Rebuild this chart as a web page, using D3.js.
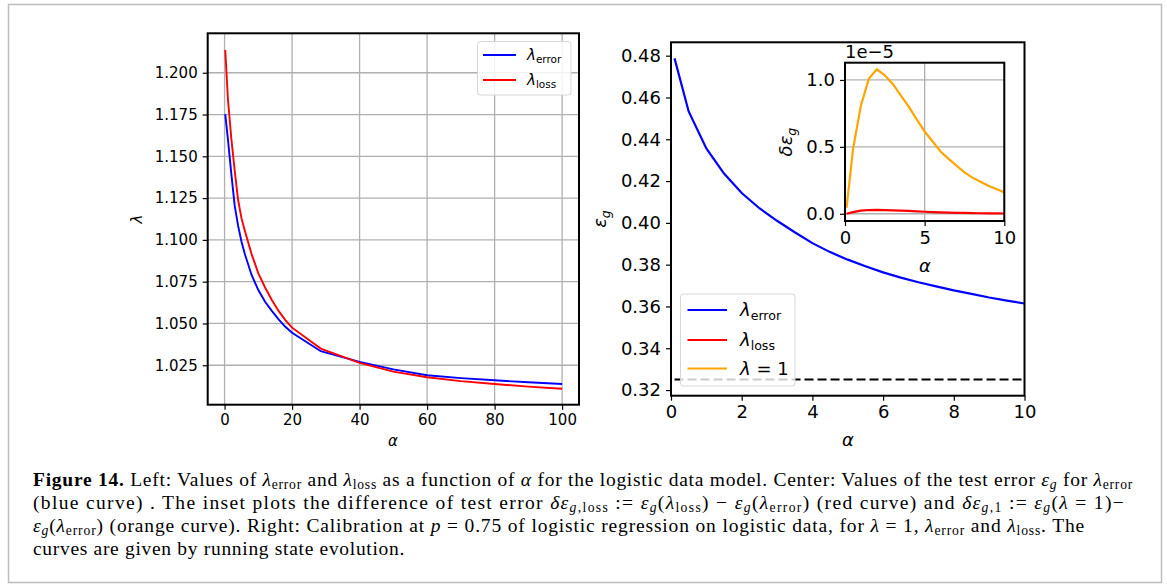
<!DOCTYPE html>
<html><head><meta charset="utf-8">
<script src="https://cdn.jsdelivr.net/npm/d3@7"></script>
<style>
body{margin:0;background:#fff}
svg{display:block}
text{font-family:"DejaVu Sans",sans-serif;fill:#000}
</style>
</head><body>
<svg id="c" width="1167" height="588"></svg>
<script>
// ---------- data ----------
const alphaLeft   = [0.2, 1, 2, 3, 4, 5, 6, 8, 10, 12, 14, 16, 18, 20, 28.5, 40, 50, 60, 70, 80, 90, 100];
const lambdaError = [1.1753, 1.160, 1.1395, 1.1205, 1.1085, 1.0990, 1.0915, 1.0790, 1.0700, 1.0630, 1.0575, 1.0525, 1.0480, 1.0444, 1.0334, 1.0270, 1.0225, 1.0190, 1.0173, 1.0160, 1.0148, 1.0138];
const lambdaLoss  = [1.2136, 1.1840, 1.1605, 1.1415, 1.1240, 1.1130, 1.1055, 1.0915, 1.0800, 1.0715, 1.0640, 1.0575, 1.0520, 1.0475, 1.0350, 1.0264, 1.0212, 1.0178, 1.0155, 1.0138, 1.0122, 1.0109];
const leftXTicks  = [0, 20, 40, 60, 80, 100];
const leftYTicks  = [1.025, 1.050, 1.075, 1.100, 1.125, 1.150, 1.175, 1.200];

const alphaRight  = [0.1, 0.5, 1.0, 1.5, 2.0, 2.5, 3.0, 3.5, 4.0, 4.5, 5.0, 5.5, 6.0, 6.5, 7.0, 7.5, 8.0, 8.5, 9.0, 9.5, 10];
const epsError    = [0.4787, 0.4533, 0.4356, 0.4236, 0.4143, 0.4070, 0.4010, 0.3955, 0.3903, 0.3860, 0.3824, 0.3792, 0.3763, 0.3738, 0.3716, 0.3696, 0.3677, 0.3660, 0.3643, 0.3628, 0.3614];
const refAlpha    = [0.1, 10];
const refLevel    = 0.325;
const rightXTicks = [0, 2, 4, 6, 8, 10];
const rightYTicks = [0.32, 0.34, 0.36, 0.38, 0.40, 0.42, 0.44, 0.46, 0.48];

const deltaLoss   = [0.000e-5, 0.012e-5, 0.024e-5, 0.028e-5, 0.029e-5, 0.028e-5, 0.026e-5, 0.024e-5, 0.021e-5, 0.018e-5, 0.015e-5, 0.013e-5, 0.011e-5, 0.009e-5, 0.007e-5, 0.006e-5, 0.005e-5, 0.004e-5, 0.003e-5, 0.003e-5, 0.002e-5];
const deltaOne    = [0.045e-5, 0.48e-5, 0.81e-5, 1.01e-5, 1.08e-5, 1.035e-5, 0.97e-5, 0.885e-5, 0.80e-5, 0.705e-5, 0.615e-5, 0.54e-5, 0.465e-5, 0.41e-5, 0.36e-5, 0.31e-5, 0.27e-5, 0.24e-5, 0.21e-5, 0.185e-5, 0.16e-5];
const insetXTicks = [0, 5, 10];
const insetYTicks = [0, 0.5e-5, 1.0e-5];

const colors = {error: "#0000ff", loss: "#ff0000", one: "#ffa500"};

// ---------- helpers ----------
const svg = d3.select("#c");
svg.append("rect").attr("x", 8.5).attr("y", 4.5).attr("width", 1153).attr("height", 578)
  .attr("fill", "#fff").attr("stroke", "#bdbdbd").attr("stroke-width", 1.5);

function mathText(g, parts, size, x, y, opts) {
  opts = opts || {};
  const shift = opts.subShift !== undefined ? opts.subShift : 0.22;
  const t = g.append("text").attr("x", x).attr("y", y).attr("font-size", size);
  if (opts.anchor) t.attr("text-anchor", opts.anchor);
  if (opts.transform) t.attr("transform", opts.transform);
  if (opts.family) t.style("font-family", opts.family);
  let cur = 0;
  parts.forEach(p => {
    const sub = p.s ? size * shift : 0;
    const ts = t.append("tspan").text(p.t).attr("dy", sub - cur);
    cur = sub;
    if (p.s) ts.attr("font-size", size * 0.7);
    if (p.i) ts.attr("font-style", "italic");
    if (p.b) ts.attr("font-weight", "bold");
  });
  return t;
}

function styleAxis(a, size) {
  a.select(".domain").remove();
  a.selectAll(".tick line").attr("stroke", "#000").attr("stroke-width", 1.2);
  a.selectAll(".tick text").attr("font-size", size).style("font-family", "DejaVu Sans").attr("fill", "#000");
}

// ---------- left plot ----------
const xL = d3.scaleLinear().domain([-5, 105]).range([207.7, 579]);
const yL = d3.scaleLinear().domain([1.0014, 1.2236]).range([404.7, 33.3]);
const gL = svg.append("g");
gL.append("g").selectAll("line").data(leftXTicks).join("line")
  .attr("x1", d => xL(d)).attr("x2", d => xL(d)).attr("y1", yL.range()[0]).attr("y2", yL.range()[1])
  .attr("stroke", "#b0b0b0").attr("stroke-width", 1.3);
gL.append("g").selectAll("line").data(leftYTicks).join("line")
  .attr("y1", d => yL(d)).attr("y2", d => yL(d)).attr("x1", xL.range()[0]).attr("x2", xL.range()[1])
  .attr("stroke", "#b0b0b0").attr("stroke-width", 1.3);
const lineL = (ys) => d3.line().x((d, i) => xL(alphaLeft[i])).y(d => yL(d))(ys);
gL.append("path").attr("d", lineL(lambdaError)).attr("fill", "none").attr("stroke", colors.error).attr("stroke-width", 1.9);
gL.append("path").attr("d", lineL(lambdaLoss)).attr("fill", "none").attr("stroke", colors.loss).attr("stroke-width", 1.9);
const axLx = gL.append("g").attr("transform", `translate(0,${yL.range()[0]})`)
  .call(d3.axisBottom(xL).tickValues(leftXTicks).tickSize(5).tickPadding(5).tickFormat(d3.format("d")));
styleAxis(axLx, 15);
const axLy = gL.append("g").attr("transform", `translate(${xL.range()[0]},0)`)
  .call(d3.axisLeft(yL).tickValues(leftYTicks).tickSize(5).tickPadding(5).tickFormat(d3.format(".3f")));
styleAxis(axLy, 15);
gL.append("rect").attr("x", 207.7).attr("y", 33.3).attr("width", 579 - 207.7).attr("height", 404.7 - 33.3)
  .attr("fill", "none").attr("stroke", "#000").attr("stroke-width", 2);
mathText(gL, [{t: "α", i: true}], 15, 393, 446, {anchor: "middle"});
mathText(gL, [{t: "λ", i: true}], 15, 0, 0, {anchor: "middle", transform: "translate(142,219) rotate(-90)"});
// legend
gL.append("rect").attr("x", 477.5).attr("y", 41.5).attr("width", 93.5).attr("height", 53.5).attr("rx", 3)
  .attr("fill", "#fff").attr("fill-opacity", 0.85).attr("stroke", "#d6d6d6").attr("stroke-width", 1);
[["error", colors.error, 55], ["loss", colors.loss, 80]].forEach(([lab, col, yy]) => {
  gL.append("line").attr("x1", 483).attr("x2", 516).attr("y1", yy).attr("y2", yy).attr("stroke", col).attr("stroke-width", 1.9);
  mathText(gL, [{t: "λ", i: true}, {t: lab, s: true}], 15, 527, yy + 5);
});

// ---------- right plot ----------
const xR = d3.scaleLinear().domain([0, 10]).range([671, 1024.5]);
const yR = d3.scaleLinear().domain([0.3173, 0.4864]).range([395.7, 42.3]);
const gR = svg.append("g");
gR.append("path").attr("d", d3.line().x((d, i) => xR(alphaRight[i])).y(d => yR(d))(epsError))
  .attr("fill", "none").attr("stroke", colors.error).attr("stroke-width", 2.2);
gR.append("path").attr("d", d3.line().x(d => xR(d)).y(() => yR(refLevel))(refAlpha))
  .attr("fill", "none").attr("stroke", "#000").attr("stroke-width", 2).attr("stroke-dasharray", "9,4");
const axRx = gR.append("g").attr("transform", `translate(0,${yR.range()[0]})`)
  .call(d3.axisBottom(xR).tickValues(rightXTicks).tickSize(5).tickPadding(5).tickFormat(d3.format("d")));
styleAxis(axRx, 18);
const axRy = gR.append("g").attr("transform", `translate(${xR.range()[0]},0)`)
  .call(d3.axisLeft(yR).tickValues(rightYTicks).tickSize(5).tickPadding(5).tickFormat(d3.format(".2f")));
styleAxis(axRy, 18);
gR.append("rect").attr("x", 671).attr("y", 42.3).attr("width", 1024.5 - 671).attr("height", 395.7 - 42.3)
  .attr("fill", "none").attr("stroke", "#000").attr("stroke-width", 2);
mathText(gR, [{t: "α", i: true}], 18, 848, 446, {anchor: "middle"});
mathText(gR, [{t: "ε", i: true}, {t: "g", i: true, s: true}], 18, 0, 0, {anchor: "middle", transform: "translate(606,219) rotate(-90)"});
// legend
gR.append("rect").attr("x", 680.5).attr("y", 294).attr("width", 114.5).attr("height", 92).attr("rx", 3)
  .attr("fill", "#fff").attr("fill-opacity", 0.8).attr("stroke", "#d6d6d6").attr("stroke-width", 1);
[[[{t: "λ", i: true}, {t: "error", s: true}], colors.error, 310],
 [[{t: "λ", i: true}, {t: "loss", s: true}], colors.loss, 340],
 [[{t: "λ", i: true}, {t: " = 1"}], colors.one, 368.5]].forEach(([parts, col, yy]) => {
  gR.append("line").attr("x1", 687.5).attr("x2", 727).attr("y1", yy).attr("y2", yy).attr("stroke", col).attr("stroke-width", 2.2);
  mathText(gR, parts, 18, 740, yy + 6);
});

// ---------- inset ----------
const xI = d3.scaleLinear().domain([0, 10]).range([845, 1004.3]);
const yI = d3.scaleLinear().domain([-0.054e-5, 1.129e-5]).range([221, 62.7]);
const gI = svg.append("g");
gI.append("rect").attr("x", 845).attr("y", 62.7).attr("width", 1004.3 - 845).attr("height", 221 - 62.7).attr("fill", "#fff");
gI.append("g").selectAll("line").data(insetXTicks).join("line")
  .attr("x1", d => xI(d)).attr("x2", d => xI(d)).attr("y1", 221).attr("y2", 62.7)
  .attr("stroke", "#b0b0b0").attr("stroke-width", 1.3);
gI.append("g").selectAll("line").data(insetYTicks).join("line")
  .attr("y1", d => yI(d)).attr("y2", d => yI(d)).attr("x1", 845).attr("x2", 1004.3)
  .attr("stroke", "#b0b0b0").attr("stroke-width", 1.3);
const lineI = (ys) => d3.line().x((d, i) => xI(alphaRight[i])).y(d => yI(d))(ys);
gI.append("path").attr("d", lineI(deltaOne)).attr("fill", "none").attr("stroke", colors.one).attr("stroke-width", 2.2);
gI.append("path").attr("d", lineI(deltaLoss)).attr("fill", "none").attr("stroke", colors.loss).attr("stroke-width", 2.2);
const axIx = gI.append("g").attr("transform", "translate(0,221)")
  .call(d3.axisBottom(xI).tickValues(insetXTicks).tickSize(5).tickPadding(5).tickFormat(d3.format("d")));
styleAxis(axIx, 18);
const axIy = gI.append("g").attr("transform", "translate(845,0)")
  .call(d3.axisLeft(yI).tickValues(insetYTicks).tickSize(5).tickPadding(5).tickFormat(d => (d / 1e-5).toFixed(1)));
styleAxis(axIy, 18);
gI.append("rect").attr("x", 845).attr("y", 62.7).attr("width", 1004.3 - 845).attr("height", 221 - 62.7)
  .attr("fill", "none").attr("stroke", "#000").attr("stroke-width", 2);
gI.append("text").attr("x", 845).attr("y", 58).attr("font-size", 18).text("1e−5");
mathText(gI, [{t: "α", i: true}], 18, 925, 272, {anchor: "middle"});
mathText(gI, [{t: "δε", i: true}, {t: "g", i: true, s: true}], 18, 0, 0, {anchor: "middle", transform: "translate(792,142) rotate(-90)"});

// ---------- caption ----------
const captionLines = [
  [{t: "Figure 14.", b: true}, {t: " Left: Values of "}, {t: "λ", i: true}, {t: "error", s: true}, {t: " and "}, {t: "λ", i: true}, {t: "loss", s: true}, {t: " as a function of "}, {t: "α", i: true}, {t: " for the logistic data model. Center: Values of the test error "}, {t: "ε", i: true}, {t: "g", i: true, s: true}, {t: " for "}, {t: "λ", i: true}, {t: "error", s: true}],
  [{t: "(blue curve) . The inset plots the difference of test error "}, {t: "δε", i: true}, {t: "g", i: true, s: true}, {t: ",loss", s: true}, {t: " := "}, {t: "ε", i: true}, {t: "g", i: true, s: true}, {t: "("}, {t: "λ", i: true}, {t: "loss", s: true}, {t: ") − "}, {t: "ε", i: true}, {t: "g", i: true, s: true}, {t: "("}, {t: "λ", i: true}, {t: "error", s: true}, {t: ") (red curve) and "}, {t: "δε", i: true}, {t: "g", i: true, s: true}, {t: ",1", s: true}, {t: " := "}, {t: "ε", i: true}, {t: "g", i: true, s: true}, {t: "("}, {t: "λ", i: true}, {t: " = 1)−"}],
  [{t: "ε", i: true}, {t: "g", i: true, s: true}, {t: "("}, {t: "λ", i: true}, {t: "error", s: true}, {t: ") (orange curve). Right: Calibration at "}, {t: "p", i: true}, {t: " = 0.75 of logistic regression on logistic data, for "}, {t: "λ", i: true}, {t: " = 1, "}, {t: "λ", i: true}, {t: "error", s: true}, {t: " and "}, {t: "λ", i: true}, {t: "loss", s: true}, {t: ". The"}],
  [{t: "curves are given by running state evolution."}]
];
const capBase = [486, 509, 532, 555];
const capEnd  = [1133, 1125, 1085, 405];
const gC = svg.append("g");
captionLines.forEach((parts, i) => {
  const t = mathText(gC, parts, 19.5, 33, capBase[i], {family: "Liberation Serif", subShift: 0.13});
  const node = t.node();
  const natural = node.getComputedTextLength();
  const n = node.textContent.length;
  const ls = (capEnd[i] - 33 - natural) / n;
  t.style("letter-spacing", ls + "px");
});
</script>
</body></html>
